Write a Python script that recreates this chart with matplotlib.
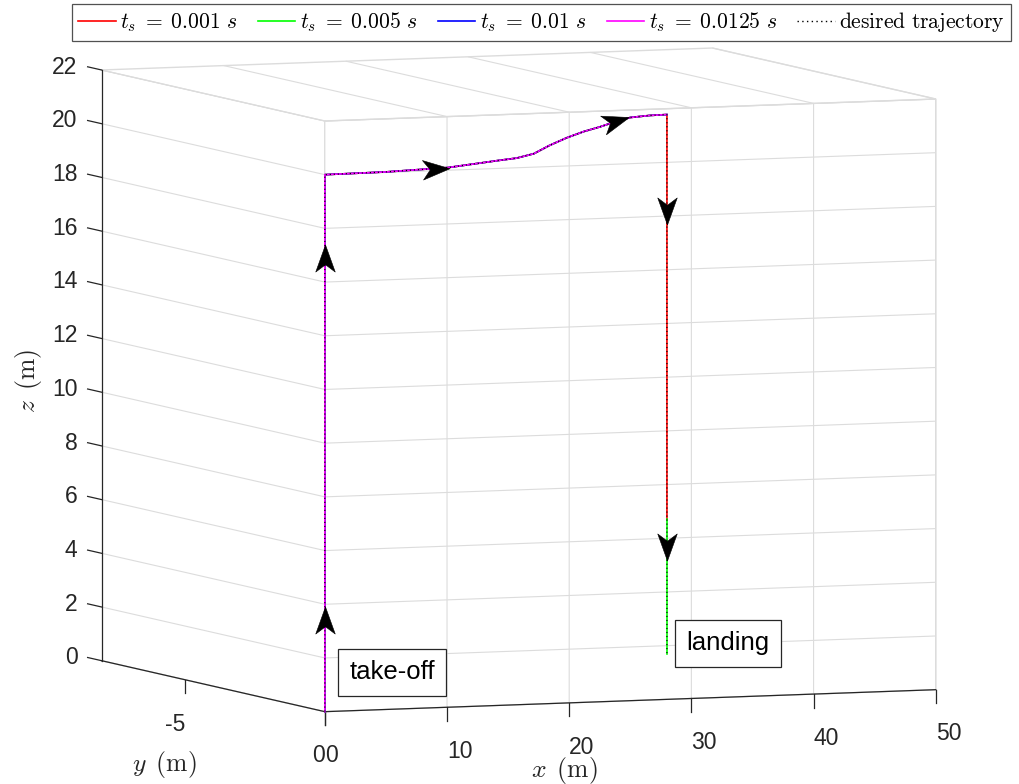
import numpy as np
import matplotlib
matplotlib.use("Agg")
import matplotlib.pyplot as plt
from matplotlib.lines import Line2D
from matplotlib.markers import MarkerStyle
from matplotlib.path import Path
from matplotlib.ticker import NullFormatter
from matplotlib.transforms import Affine2D
from mpl_toolkits.mplot3d import proj3d

plt.rcParams["font.family"] = ["Liberation Sans", "DejaVu Sans"]
plt.rcParams["mathtext.fontset"] = "cm"
plt.rcParams["grid.color"] = "#dcdcdc"
plt.rcParams["grid.linewidth"] = 0.8

# ---------------- flight data (m) ----------------
takeoff_z = [0.0, 20.0]
cruise_x = [0.0, 5.0, 10.1, 14.3, 15.7, 17.1, 18.4, 19.8, 21.2, 22.5, 23.9, 25.0, 26.6, 28.0]
cruise_z = [20.0, 20.02, 20.1, 20.3, 20.36, 20.5, 20.79, 21.05, 21.26, 21.41, 21.6, 21.72, 21.77, 21.78]
landing_x = 28.0
upper_descent_z = [21.78, 6.7]
lower_descent_z = [6.7, 1.7]

sample_times = ["0.001", "0.005", "0.01", "0.0125"]
series_colors = ["#ff0000", "#00ff00", "#0000ff", "#ff00ff"]

x_ticks = [0, 10, 20, 30, 40, 50]
y_ticks = [-5, 0]
z_ticks = [0, 2, 4, 6, 8, 10, 12, 14, 16, 18, 20, 22]
x_range = (0, 50)
y_range = (-8, 0)
z_range = (0, 22)

# direction markers along the path
arrow_x = [0.0, 0.0, 9.06, 23.85, 28.0, 28.0]
arrow_z = [3.4, 16.9, 20.08, 21.6, 18.2, 5.68]
arrow_dx = [0.0, 0.0, 1.0, 1.0, 0.0, 0.0]
arrow_dz = [1.0, 1.0, 0.01, 0.124, -1.0, -1.0]

note_text = ["take-off", "landing"]
note_x = [5.5, 33.0]
note_z = [1.38, 2.0]

# ---------------- figure ----------------
FW, FH = 1019, 784
fig = plt.figure(figsize=(FW / 100, FH / 100), dpi=100)
ax = fig.add_axes([0.0, 0.0, FH / FW, 1.0], projection="3d",
                  proj_type="ortho", computed_zorder=False)
ax.set_box_aspect((656, 604, 592))
ax.view_init(elev=-5.2, azim=-68.35)
ax.set_xlim(*x_range)
ax.set_ylim(*y_range)
ax.set_zlim(*z_range)
# grid only along x and z; the y direction carries no grid lines
ax.set_xticks(x_ticks)
ax.set_yticks([])
ax.set_zticks(z_ticks)

for axis in (ax.xaxis, ax.yaxis, ax.zaxis):
    axis.set_pane_color((1, 1, 1, 1))
    axis.pane.set_edgecolor("#dcdcdc")
    axis.line.set_color("none")
    axis.set_major_formatter(NullFormatter())
ax.tick_params(axis="both", color="none")
ax.tick_params(axis="z", color="none")

axis_color = "#262626"
x0, x1 = x_range
y0, y1 = y_range
z0, z1 = z_range
ax.plot([x0, x0], [y0, y0], [z0, z1], color=axis_color, lw=0.9)
ax.plot([x0, x0], [y0, y1], [z0, z0], color=axis_color, lw=0.9)
ax.plot([x0, x1], [y1, y1], [z0, z0], color=axis_color, lw=0.9)
for z in z_ticks:
    ax.plot([x0, x0], [y0, y0 - 0.5], [z, z], color=axis_color, lw=0.9)
for x in x_ticks:
    ax.plot([x, x], [y1, y1], [z0, z0 - 0.5], color=axis_color, lw=0.9)
for y in y_ticks:
    ax.plot([x0, x0], [y, y], [z0, z0 - 0.5], color=axis_color, lw=0.9)

# ---------------- trajectories ----------------
flight_x = [0.0] * len(takeoff_z) + cruise_x
flight_z = takeoff_z + cruise_z

for i, color in enumerate(series_colors):
    xs, zs = list(flight_x), list(flight_z)
    if i == 0:
        xs += [landing_x] * len(upper_descent_z)
        zs += upper_descent_z
    ax.plot(xs, [0.0] * len(xs), zs, color=color, lw=1.2, zorder=3)
    if i == 1:
        ax.plot([landing_x] * len(lower_descent_z), [0.0] * len(lower_descent_z),
                lower_descent_z, color=color, lw=1.2, zorder=3)

desired_style = (0, (1, 2.4))
desired_x = flight_x + [landing_x, landing_x]
desired_z = flight_z + [upper_descent_z[0], lower_descent_z[-1]]
ax.plot(desired_x, [0.0] * len(desired_x), desired_z, color="k", lw=0.85,
        ls=desired_style, zorder=4)

# ---------------- fit plot box on the canvas ----------------
box_corners = [((0, 0, 0), (325, 712)), ((50, 0, 0), (935, 690)),
               ((0, -8, 0), (102, 661)), ((0, 0, 22), (325, 120))]


def proj2d(x, y, z):
    xs, ys, _ = proj3d.proj_transform(np.array([x], float), np.array([y], float),
                                      np.array([z], float), ax.M)
    return xs[0], ys[0]


def to_display(x, y, z):
    return np.array(ax.transData.transform(proj2d(x, y, z)))


fig.canvas.draw()
pos = ax.get_position()
W = pos.width * FW
bx, by = pos.x0 * FW, pos.y0 * FH
rows, rhs = [], []
for p3, (tx, ty) in box_corners:
    u = (to_display(*p3) - np.array([bx, by])) / W
    rows.append([u[0], 1.0, 0.0]); rhs.append(tx)
    rows.append([u[1], 0.0, 1.0]); rhs.append(FH - ty)
a, nbx, nby = np.linalg.lstsq(np.array(rows), np.array(rhs), rcond=None)[0]

# arrowheads (stealth shape), oriented along the projected path direction
head = Path([(1, 0), (-1, 0.72), (-0.46, 0), (-1, -0.72), (1, 0)],
            [Path.MOVETO, Path.LINETO, Path.LINETO, Path.LINETO, Path.CLOSEPOLY])
for px, pz, dx, dz in zip(arrow_x, arrow_z, arrow_dx, arrow_dz):
    d0 = to_display(px, 0.0, pz)
    d1 = to_display(px + dx * 0.5, 0.0, pz + dz * 0.5)
    ang = np.degrees(np.arctan2(d1[1] - d0[1], d1[0] - d0[0]))
    ax.plot([px], [0.0], [pz], ls="none", color="k", ms=19.5, mew=0.4,
            marker=MarkerStyle(head, transform=Affine2D().rotate_deg(ang)), zorder=8)

ax.set_position([nbx / FW, nby / FH, a / FW, a / FH])

# ---------------- tick labels and notes at projected anchor points ----------------
tick_font = dict(fontsize=16.5, color=axis_color)
for z in z_ticks:
    ax.text2D(*proj2d(x0, y0 - 0.86, z - 0.1), f"{z}", transform=ax.transData,
              ha="right", va="center", **tick_font)
for x in x_ticks:
    ax.text2D(*proj2d(x, y1, z0 - 1.65), f"{x}", transform=ax.transData,
              ha="left", va="center", **tick_font)
for y in y_ticks:
    ax.text2D(*proj2d(x0, y, z0 - 1.65), f"{y}", transform=ax.transData,
              ha="right", va="center", **tick_font)

for txt, nx, nz in zip(note_text, note_x, note_z):
    ax.text2D(*proj2d(nx, 0.0, nz), txt, transform=ax.transData,
              ha="center", va="center", fontsize=18.5, color="k", zorder=9,
              bbox=dict(boxstyle="square,pad=0.45", facecolor="white",
                        edgecolor="#262626", linewidth=0.9))

# ---------------- labels and legend ----------------
label_font = dict(fontsize=18.5, color=axis_color)
fig.text(29 / FW, 1 - 381 / FH, r"$z\ \,(\mathrm{m})$", rotation=90, ha="center", va="center", **label_font)
fig.text(164 / FW, 1 - 765 / FH, r"$y\ \,(\mathrm{m})$", ha="center", va="center", **label_font)
fig.text(564 / FW, 1 - 771 / FH, r"$x\ \,(\mathrm{m})$", ha="center", va="center", **label_font)

handles = [Line2D([], [], color=c, lw=1.2) for c in series_colors]
labels = [rf"$t_s \;=\; {t}\ s$" for t in sample_times]
handles.append(Line2D([], [], color="k", lw=1.0, ls=desired_style))
labels.append(r"$\mathrm{desired\ trajectory}$")
leg = fig.legend(handles, labels, loc="upper center", bbox_to_anchor=(541.5 / FW, 1 - 4 / FH),
                 ncol=5, fontsize=15.5, frameon=True, fancybox=False, edgecolor="#262626",
                 handlelength=1.75, handletextpad=0.2, columnspacing=0.95, borderpad=0.3,
                 borderaxespad=0.0)
leg.get_frame().set_linewidth(0.9)

fig.savefig("out.png", dpi=100, facecolor="white")
